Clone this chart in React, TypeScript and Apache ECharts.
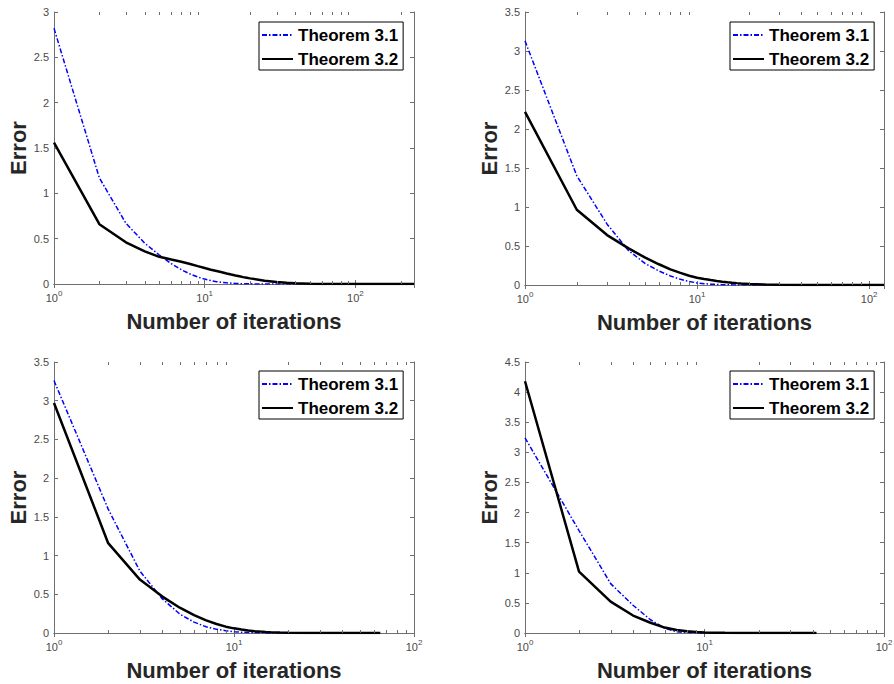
import React, { useEffect, useRef } from "react";
import * as echarts from "echarts";

// Panel A (top-left)
const iterA = [1, 2, 3, 4, 5, 6, 7, 8, 9, 10, 11, 12, 13, 14, 15, 16, 17, 18, 19, 20, 25, 30, 35, 40, 50, 60, 80, 245];
const thm31A = [2.82, 1.17, 0.67, 0.45, 0.32, 0.225, 0.157, 0.11, 0.077, 0.054, 0.038, 0.026, 0.018, 0.013, 0.009, 0.006, 0.0043, 0.003, 0.0021, 0.0015, 0.0003, 0.0001, 0, 0, 0, 0, 0, 0];
const thm32A = [1.56, 0.66, 0.46, 0.36, 0.3, 0.27, 0.245, 0.22, 0.197, 0.177, 0.158, 0.143, 0.129, 0.116, 0.104, 0.094, 0.085, 0.076, 0.069, 0.062, 0.037, 0.022, 0.013, 0.008, 0.003, 0.001, 0.0002, 0];

// Panel B (top-right)
const iterB = [1, 2, 3, 4, 5, 6, 7, 8, 9, 10, 11, 12, 13, 14, 15, 16, 17, 18, 19, 20, 25, 30, 40, 60, 122];
const thm31B = [3.13, 1.4, 0.78, 0.44, 0.275, 0.18, 0.116, 0.073, 0.045, 0.027, 0.017, 0.011, 0.007, 0.0045, 0.003, 0.002, 0.0015, 0.001, 0.0007, 0.0005, 0, 0, 0, 0, 0];
const thm32B = [2.22, 0.965, 0.64, 0.47, 0.35, 0.266, 0.2, 0.155, 0.118, 0.094, 0.077, 0.063, 0.052, 0.043, 0.035, 0.029, 0.024, 0.02, 0.017, 0.014, 0.005, 0.002, 0.0003, 0, 0];

// Panel C (bottom-left)
const iterC = [1, 2, 3, 4, 5, 6, 7, 8, 9, 10, 11, 12, 13, 14, 15, 16, 18, 20, 25, 30, 40, 65];
const thm31C = [3.26, 1.6, 0.8, 0.44, 0.245, 0.14, 0.08, 0.047, 0.03, 0.017, 0.01, 0.006, 0.004, 0.0025, 0.0015, 0.001, 0.0006, 0.0002, 0, 0, 0, 0];
const thm32C = [2.97, 1.16, 0.69, 0.47, 0.327, 0.232, 0.163, 0.116, 0.082, 0.06, 0.044, 0.032, 0.024, 0.018, 0.013, 0.0095, 0.005, 0.0027, 0.0006, 0.0001, 0, 0];

// Panel D (bottom-right)
const iterD = [1, 2, 3, 4, 5, 6, 7, 8, 9, 10, 11, 12, 13, 15, 20, 30, 42];
const thm31D = [3.24, 1.7, 0.82, 0.46, 0.22, 0.08, 0.02, 0.008, 0.003, 0.001, 0.0005, 0.0002, 0, 0, 0, 0, 0];
const thm32D = [4.18, 1.02, 0.52, 0.29, 0.17, 0.09, 0.05, 0.028, 0.017, 0.01, 0.006, 0.004, 0.0025, 0.001, 0.0002, 0, 0];

const xMaxes = [245, 122, 100, 100];
const yMaxes = [3, 3.5, 3.5, 4.5];
const minorTickValues = [2, 3, 4, 5, 6, 7, 8, 9, 20, 30, 40, 50, 60, 70, 80, 90, 200];

const seriesNames = ["Theorem 3.1", "Theorem 3.2"];
const panels = [
  { iter: iterA, a: thm31A, b: thm32A },
  { iter: iterB, a: thm31B, b: thm32B },
  { iter: iterC, a: thm31C, b: thm32C },
  { iter: iterD, a: thm31D, b: thm32D },
];

const FONT = "'Liberation Sans', Arial, Helvetica, sans-serif";
const AXIS_COLOR = "#6f6f6f";
const LABEL_COLOR = "#4a4a4a";

const grids = [
  { left: 54, top: 12, width: 360, height: 272 },
  { left: 525, top: 12, width: 359, height: 273 },
  { left: 54, top: 362, width: 360, height: 271 },
  { left: 525, top: 362, width: 359, height: 271 },
];
const legendPos = [
  { left: 259, top: 22 },
  { left: 730, top: 22 },
  { left: 259, top: 371 },
  { left: 730, top: 371 },
];

export default function App() {
  const ref = useRef<HTMLDivElement>(null);
  useEffect(() => {
    if (!ref.current) return;
    const chart = echarts.init(ref.current, null, { renderer: "svg" });

    const xAxes: any[] = [];
    const yAxes: any[] = [];
    const series: any[] = [];
    const legends: any[] = [];

    for (let p = 0; p < 4; p++) {
      const tickCommon = {
        axisLine: { show: true, lineStyle: { color: AXIS_COLOR, width: 1 } },
        axisTick: { show: true, inside: true, length: 4, lineStyle: { color: AXIS_COLOR } },
        minorTick: { show: false },
        splitLine: { show: false },
      };
      xAxes[p] = {
        type: "log",
        logBase: 10,
        gridIndex: p,
        min: 1,
        max: xMaxes[p],
        position: "bottom",
        name: "Number of iterations",
        nameLocation: "middle",
        nameGap: 26,
        nameTextStyle: { fontSize: 22, fontWeight: "bold", color: "#262626", fontFamily: FONT },
        ...tickCommon,
        axisLabel: {
          show: true,
          margin: 5,
          showMaxLabel: xMaxes[p] === 100,
          color: LABEL_COLOR,
          fontSize: 11,
          fontFamily: FONT,
          formatter: (v: number) => "10{s|" + Math.round(Math.log10(v)) + "}",
          rich: { s: { fontSize: 8, color: LABEL_COLOR, fontFamily: FONT, padding: [0, 0, 10, 0] } },
        },
      };
      xAxes[p + 4] = {
        type: "log",
        logBase: 10,
        gridIndex: p,
        min: 1,
        max: xMaxes[p],
        position: "top",
        ...tickCommon,
        axisLabel: { show: false },
      };
      yAxes[p] = {
        type: "value",
        gridIndex: p,
        min: 0,
        max: yMaxes[p],
        interval: 0.5,
        position: "left",
        name: "Error",
        nameLocation: "middle",
        nameGap: 25,
        nameTextStyle: { fontSize: 22, fontWeight: "bold", color: "#262626", fontFamily: FONT },
        ...tickCommon,
        axisLabel: { margin: 5, color: LABEL_COLOR, fontSize: 11, fontFamily: FONT },
      };
      yAxes[p + 4] = {
        type: "value",
        gridIndex: p,
        min: 0,
        max: yMaxes[p],
        interval: 0.5,
        position: "right",
        ...tickCommon,
        axisLabel: { show: false },
      };

      const pd = panels[p];
      series.push({
        name: seriesNames[0],
        type: "line",
        xAxisIndex: p,
        yAxisIndex: p,
        data: pd.iter.map((x, i) => [x, pd.a[i]]),
        showSymbol: false,
        symbol: "none",
        z: 3,
        lineStyle: { color: "#0000ff", width: 1.5, type: [5, 2, 1.5, 2] },
        itemStyle: { color: "#0000ff" },
      });
      series.push({
        name: seriesNames[1],
        type: "line",
        xAxisIndex: p,
        yAxisIndex: p,
        data: pd.iter.map((x, i) => [x, pd.b[i]]),
        showSymbol: false,
        symbol: "none",
        z: 4,
        lineStyle: { color: "#000000", width: 2.5, type: "solid" },
        itemStyle: { color: "#000000" },
      });

      legends.push({
        ...legendPos[p],
        orient: "vertical",
        data: seriesNames,
        itemWidth: 31,
        itemHeight: 10,
        itemGap: 6,
        itemTextGap: 4,
        selectedMode: false,
        backgroundColor: "#ffffff",
        borderColor: "#000000",
        borderWidth: 1,
        padding: [4, 5, 2, 2],
        itemStyle: { opacity: 0 },
        textStyle: { fontSize: 17, fontWeight: "bold", color: "#000000", fontFamily: FONT, lineHeight: 18 },
      });
    }

    chart.setOption({
      animation: false,
      backgroundColor: "#ffffff",
      grid: grids.map((g) => ({ ...g, containLabel: false, outerBoundsMode: "none" })),
      xAxis: xAxes,
      yAxis: yAxes,
      legend: legends,
      series,
    });

    // minor log ticks (2..9, 20..90, ...) placed through the axes' own scales
    const tickGraphics: any[] = [];
    for (let p = 0; p < 4; p++) {
      minorTickValues
        .filter((v) => v < xMaxes[p])
        .forEach((v) => {
          const b = chart.convertToPixel({ xAxisIndex: p, yAxisIndex: p }, [v, 0]) as number[];
          const t = chart.convertToPixel({ xAxisIndex: p, yAxisIndex: p }, [v, yMaxes[p]]) as number[];
          if (!b || !t) return;
          const x = Math.round(b[0]) + 0.5;
          tickGraphics.push({
            type: "line",
            silent: true,
            z: 50,
            shape: { x1: x, y1: b[1], x2: x, y2: b[1] - 3 },
            style: { stroke: AXIS_COLOR, lineWidth: 1 },
          });
          tickGraphics.push({
            type: "line",
            silent: true,
            z: 50,
            shape: { x1: x, y1: t[1], x2: x, y2: t[1] + 3 },
            style: { stroke: AXIS_COLOR, lineWidth: 1 },
          });
        });
    }
    chart.setOption({ graphic: tickGraphics });

    return () => chart.dispose();
  }, []);
  return <div ref={ref} style={{ position: "absolute", left: 0, top: 0, width: 894, height: 684 }} />;
}
